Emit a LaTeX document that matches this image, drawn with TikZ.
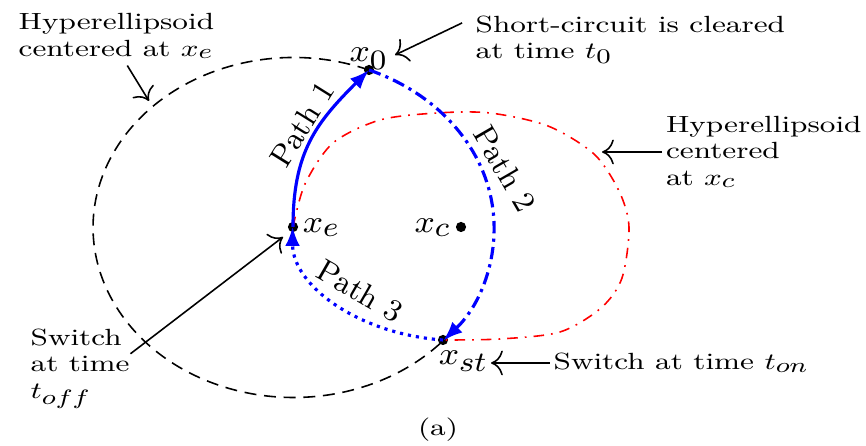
\documentclass[tikz,border=0pt]{standalone}
\usetikzlibrary{arrows.meta}
\DeclareMathSizes{9}{9}{8}{6}

\begin{document}
\begin{tikzpicture}[
  x=0.01cm,
  y=0.01cm,
  note/.style={font=\fontsize{9}{10.2}\selectfont, xscale=0.96, yscale=0.74,
               align=left, inner sep=1pt},
  ptlabel/.style={font=\fontsize{9}{11}\selectfont, xscale=1.1, yscale=1,
                  inner sep=0pt},
  pathlabel/.style={font=\fontsize{9}{11}\selectfont, scale=0.98,
                    inner sep=0pt},
  dot/.style={circle, fill, inner sep=0pt, minimum size=2.9pt},
  pointer/.style={line width=0.45pt, -{To[scale=1.3]}},
  hyperE/.style={line width=0.45pt, dash pattern=on 3.4pt off 2.2pt},
  hyperC/.style={red, line width=0.45pt,
                 dash pattern=on 3pt off 2pt on 0.5pt off 2pt},
  move/.style={blue, line width=0.9pt, -{Latex[length=5.5pt, width=4.2pt]}}
]
  \useasboundingbox (0,0) rectangle (866,446);

  % ---- the four states ---------------------------------------------------
  \node[dot] (x0)  at (369,376) {};
  \node[dot] (xe)  at (293,219) {};
  \node[dot] (xc)  at (461,219) {};
  \node[dot] (xst) at (443,106) {};

  % ---- hyperellipsoid round x_e (its right side is path 2) --------------
  \draw[hyperE] (x0.center)
    arc[start angle=67.9, end angle=318.3, x radius=200.5, y radius=170];

  % ---- hyperellipsoid round x_c (its lower left side is path 3) ---------
  \draw[hyperC] plot[smooth] coordinates {
    (293,219) (305,262) (333,303) (380,326) (437,333) (490,333) (548,320)
    (594,292) (619,255) (629,219) (622,168) (601,138) (560,114) (500,107)
    (443,106)};

  % ---- the three paths ---------------------------------------------------
  \draw[move] (xe.center) to[out=90, in=-135, looseness=1.1] (x0.center);
  \draw[move, dash pattern=on 3.5pt off 1.5pt on 0.9pt off 1.5pt] (x0.center)
    arc[start angle=67.9, end angle=-41.7, x radius=200.5, y radius=170];
  \draw[move, dash pattern=on 0.9pt off 1.4pt] (xst.center)
    arc[start angle=264, end angle=180, x radius=168, y radius=114];

  \node[pathlabel, rotate=58]  (p1) at (302,322) {Path 1};
  \node[pathlabel, rotate=-60] (p2) at (505,277) {Path 2};
  \node[pathlabel, rotate=-30] (p3) at (360,155) {Path 3};

  % ---- state labels ------------------------------------------------------
  \node[ptlabel, anchor=base] (lx0) at ([yshift=2.3pt]x0.center) {$x_0$};
  \node[ptlabel, anchor=base west] (lxe)
    at ([xshift=2.6pt, yshift=-1.7pt]xe.center) {$x_e$};
  \node[ptlabel, anchor=base east] (lxc)
    at ([xshift=-2.6pt, yshift=-1.7pt]xc.center) {$x_c$};
  \node[ptlabel, anchor=base west] (lxst)
    at ([xshift=-1.4pt, yshift=-7.1pt]xst.center) {$x_{st}$};

  % ---- annotations -------------------------------------------------------
  \node[note, anchor=north west] (hxe) at (14.6,435.6)
    {Hyperellipsoid\\centered at $x_e$};
  \coordinate (hxetip) at (149,345);
  \draw[pointer] ([shift={(3.1pt,-1pt)}]hxe.south) -- (hxetip);

  \node[note, anchor=north west] (sc) at (471.6,433.6)
    {Short-circuit is cleared\\at time $t_0$};
  \coordinate (sctip) at (395,391);
  \draw[pointer] ([shift={(-2.7pt,-3pt)}]sc.north west) -- (sctip);

  \node[note, anchor=west] (hxc) at (662,294)
    {Hyperellipsoid\\centered\\at $x_c$};
  \coordinate (hxctip) at (602,294);
  \draw[pointer] (hxc.west) -- (hxctip);

  \node[note, anchor=west] (ton) at (549.6,83) {Switch at time $t_{on}$};
  \coordinate (tontip) at (491,83);
  \draw[pointer] (ton.west) -- (tontip);

  \node[note, anchor=north west] (toff) at (26.6,120.6)
    {Switch\\at time\\$t_{off}$};
  \coordinate (tofftip) at (283,209);
  \draw[pointer] ([shift={(-0.9pt,4.2pt)}]toff.east) -- (tofftip);

  \node[note] (cap) at (438,16) {(a)};
\end{tikzpicture}
\end{document}
